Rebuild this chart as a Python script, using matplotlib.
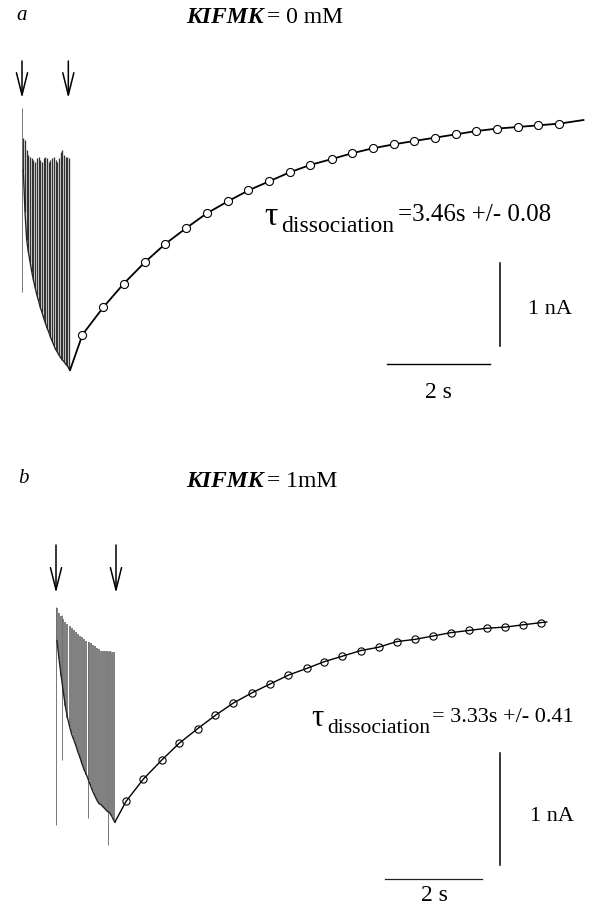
import matplotlib
matplotlib.use('Agg')
import matplotlib.pyplot as plt

plt.rcParams['font.family'] = ['Liberation Serif', 'DejaVu Serif']

W, H = 593, 906

# ---------------- panel a : KIFMK = 0 mM ----------------
# pulse train (time in s, current in nA)
a_spike_t = [0.025, 0.058, 0.091, 0.124, 0.157, 0.190, 0.222, 0.255, 0.288, 0.321,
             0.354, 0.387, 0.420, 0.453, 0.485, 0.518, 0.551, 0.584, 0.617, 0.650,
             0.683, 0.716, 0.749, 0.782, 0.815, 0.847, 0.880, 0.913]
a_spike_top = [-0.36, -0.39, -0.51, -0.57, -0.60, -0.61, -0.63, -0.65, -0.61, -0.60,
               -0.63, -0.65, -0.61, -0.60, -0.61, -0.65, -0.63, -0.61, -0.60, -0.63,
               -0.65, -0.61, -0.53, -0.51, -0.57, -0.60, -0.59, -0.61]
a_spike_base = [-0.75, -1.26, -1.60, -1.75, -1.87, -1.99, -2.09, -2.18, -2.27, -2.34,
                -2.42, -2.48, -2.55, -2.61, -2.67, -2.72, -2.78, -2.83, -2.88, -2.93,
                -2.96, -3.00, -3.03, -3.06, -3.08, -3.11, -3.13, -3.17]
a_artifact_t = [0.006]
a_artifact_top = [0.0]
a_artifact_bot = [-2.23]
a_min = (0.93, -3.18)
a_end = (10.86, -0.146)
# recovery, fitted points (open circles)
a_fit_t = [1.17, 1.57, 1.97, 2.38, 2.77, 3.17, 3.57, 3.99, 4.38, 4.78, 5.18, 5.58,
           5.99, 6.38, 6.78, 7.20, 7.59, 7.99, 8.39, 8.78, 9.19, 9.60, 9.99, 10.39]
a_fit_i = [-2.75, -2.42, -2.13, -1.87, -1.65, -1.46, -1.28, -1.13, -1.00, -0.89,
           -0.78, -0.69, -0.62, -0.55, -0.49, -0.44, -0.40, -0.36, -0.32, -0.28,
           -0.25, -0.23, -0.21, -0.19]
a_arrows_t = [0.0, 0.896]

# ---------------- panel b : KIFMK = 1 mM ----------------
b_spike_t = [0.021, 0.064, 0.108, 0.151, 0.195, 0.238, 0.282, 0.325, 0.369, 0.412,
             0.455, 0.499, 0.542, 0.586, 0.629, 0.673, 0.716, 0.760, 0.803, 0.847,
             0.890, 0.934, 0.977, 1.021, 1.064, 1.108, 1.151, 1.195]
b_spike_top = [-0.01, -0.05, -0.08, -0.11, -0.13, -0.15, -0.17, -0.19, -0.21, -0.22,
               -0.24, -0.26, -0.27, -0.29, -0.30, -0.31, -0.32, -0.34, -0.35, -0.37,
               -0.38, -0.39, -0.39, -0.39, -0.39, -0.39, -0.40, -0.40]
b_spike_base = [-0.30, -0.47, -0.62, -0.76, -0.89, -0.99, -1.07, -1.14, -1.19, -1.24,
                -1.30, -1.35, -1.41, -1.46, -1.50, -1.55, -1.60, -1.65, -1.69, -1.73,
                -1.76, -1.77, -1.79, -1.81, -1.83, -1.84, -1.87, -1.91]
b_artifact_t = [0.0, 0.118, 0.669, 1.083]
b_artifact_top = [0.0, -0.07, -0.31, -0.39]
b_artifact_bot = [-1.95, -1.37, -1.89, -2.13]
b_min = (1.22, -1.925)
b_end = (10.16, -0.134)
b_fit_t = [1.45, 1.81, 2.19, 2.55, 2.93, 3.30, 3.67, 4.05, 4.43, 4.81, 5.19, 5.55,
           5.93, 6.31, 6.68, 7.05, 7.43, 7.80, 8.17, 8.55, 8.92, 9.30, 9.66, 10.04]
b_fit_i = [-1.74, -1.54, -1.37, -1.22, -1.09, -0.97, -0.86, -0.77, -0.69, -0.61,
           -0.55, -0.49, -0.44, -0.39, -0.36, -0.31, -0.29, -0.26, -0.23, -0.21,
           -0.19, -0.18, -0.16, -0.14]
b_arrows_t = [0.0, 1.242]


def px(x, y):
    return x / W, 1 - y / H


def make_axes(fig, top, bottom, x0, y0, sx, sy):
    # axes spanning a pixel band; t=0 at x0, I=0 at y0, sx px/s, sy px/nA
    ax = fig.add_axes([0, 1 - bottom / H, 1, (bottom - top) / H])
    ax.set_xlim(-x0 / sx, (W - x0) / sx)
    ax.set_ylim((y0 - bottom) / sy, (y0 - top) / sy)
    ax.axis('off')
    return ax


def draw_trace(ax, st, stop, sbase, art_t, art_top, art_bot, tmin, tend,
               fit_t, fit_i, spike_col, spike_lw, lw, face, ms):
    ax.vlines(art_t, art_bot, art_top, colors='#777777', lw=0.7)
    ax.vlines(st, sbase, stop, colors=spike_col, lw=spike_lw)
    ax.plot(st + [tmin[0]], sbase + [tmin[1]], color='#222222', lw=1.0)
    rt = [tmin[0]] + fit_t + [tend[0]]
    ri = [tmin[1]] + fit_i + [tend[1]]
    ax.plot(rt, ri, color='black', lw=lw)
    ax.plot(fit_t, fit_i, 'o', ms=ms, mfc=face, mec='black', mew=0.8)


def draw_arrows(ax, ts, i_top, i_tip):
    for t in ts:
        ax.annotate('', xy=(t, i_tip), xytext=(t, i_top),
                    arrowprops=dict(arrowstyle='->,head_length=1.6,head_width=0.4',
                                    lw=1.1, color='black', shrinkA=0, shrinkB=0))


fig = plt.figure(figsize=(W / 100, H / 100), dpi=100)

# panel a
ax_a = make_axes(fig, 50, 420, 22, 108, 51.7, 82.4)
draw_trace(ax_a, a_spike_t, a_spike_top, a_spike_base, a_artifact_t, a_artifact_top,
           a_artifact_bot, a_min, a_end, a_fit_t, a_fit_i, '#333333', 0.95, 1.3,
           'white', 5.8)
draw_arrows(ax_a, a_arrows_t, 0.57, 0.12)
ax_a.plot([7.054, 9.054], [-3.107, -3.107], color='black', lw=1.0)
ax_a.plot([9.246, 9.246], [-2.885, -1.885], color='black', lw=1.1)

# panel b
ax_b = make_axes(fig, 470, 906, 56, 607, 48.3, 111.7)
draw_trace(ax_b, b_spike_t, b_spike_top, b_spike_base, b_artifact_t, b_artifact_top,
           b_artifact_bot, b_min, b_end, b_fit_t, b_fit_i, '#6e6e6e', 1.25, 1.0,
           'none', 5.2)
draw_arrows(ax_b, b_arrows_t, 0.555, 0.125)
ax_b.plot([6.812, 8.812], [-2.435, -2.435], color='#222222', lw=0.9)
ax_b.plot([9.193, 9.193], [-2.310, -1.310], color='black', lw=1.1)

# labels
fs = 17
fig.text(*px(16, 20), 'a', fontsize=15, style='italic', va='baseline')
fig.text(*px(186, 23), 'KIFMK', fontsize=fs, style='italic', weight='bold', va='baseline')
fig.text(*px(267, 23), '= 0 mM', fontsize=fs, va='baseline')
fig.text(*px(18, 483), 'b', fontsize=15, style='italic', va='baseline')
fig.text(*px(186, 487), 'KIFMK', fontsize=fs, style='italic', weight='bold', va='baseline')
fig.text(*px(267, 487), '= 1mM', fontsize=fs, va='baseline')

fig.text(*px(264, 225), 'τ', fontsize=24, va='baseline')
fig.text(*px(281, 232), 'dissociation', fontsize=17, va='baseline')
fig.text(*px(398, 221), '=3.46s +/- 0.08', fontsize=18, va='baseline')
fig.text(*px(311, 726), 'τ', fontsize=22, va='baseline')
fig.text(*px(327, 733), 'dissociation', fontsize=15.5, va='baseline')
fig.text(*px(432, 722), '= 3.33s +/- 0.41', fontsize=16, va='baseline')

fig.text(*px(528, 314), '1 nA', fontsize=16, va='baseline')
fig.text(*px(425, 398), '2 s', fontsize=17, va='baseline')
fig.text(*px(530, 821), '1 nA', fontsize=16, va='baseline')
fig.text(*px(421, 901), '2 s', fontsize=17, va='baseline')

fig.savefig('out.png', dpi=100, facecolor='white')
